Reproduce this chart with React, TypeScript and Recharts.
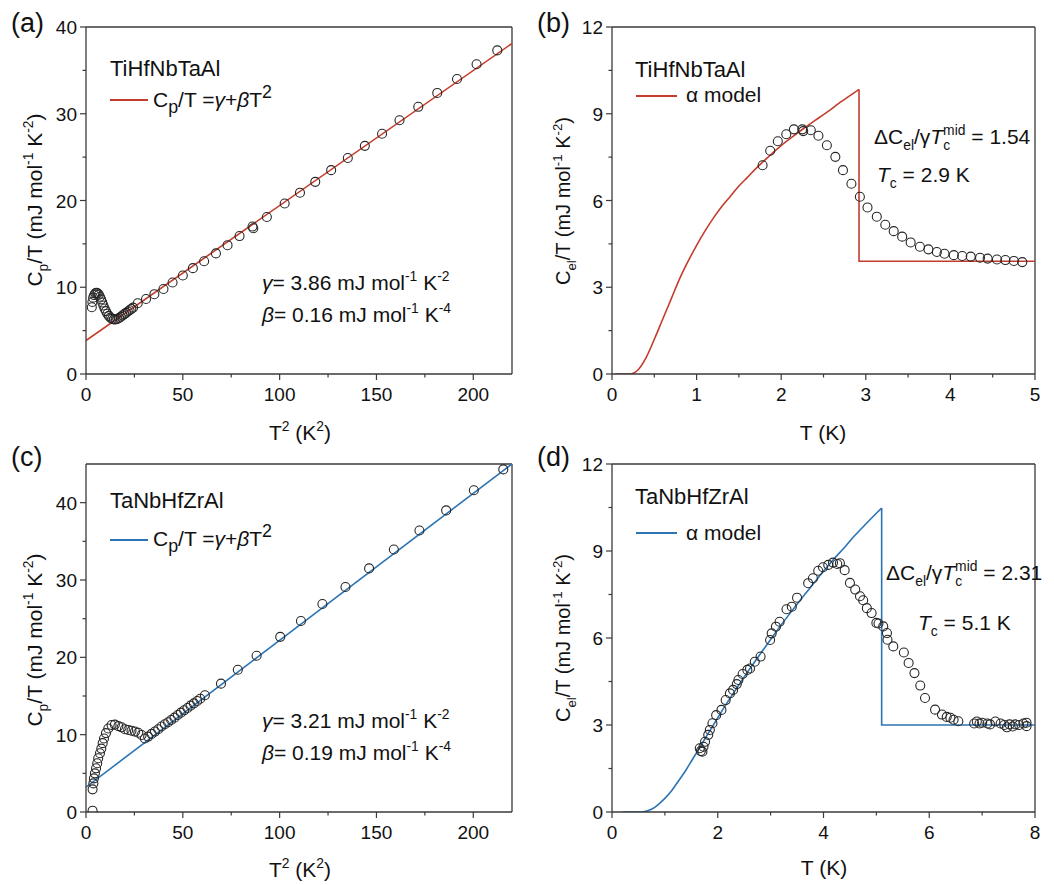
import React from 'react';
import { ComposedChart, Line, Scatter, XAxis, YAxis, ReferenceLine } from 'recharts';

const FONT = '"Liberation Sans", Arial, Helvetica, sans-serif';
const AXIS = '#3a3a3a';
const RED = '#c43c2c';
const BLUE = '#2c74b4';
const MARK = '#262626';
const TXT = '#111111';

// ---------- Panel (a): TiHfNbTaAl, Cp/T vs T^2 ----------
const aT2 = [3.0, 3.3, 3.7, 4.2, 4.8, 5.4, 6.0, 6.6, 7.2, 7.8, 8.4, 9.0, 9.6, 10.3, 11.0, 11.8, 12.6, 13.5, 14.4, 15.3, 16.2, 17.1, 18.0, 18.9, 19.8, 20.7, 21.6, 22.5, 23.4, 24.3, 26.7, 31.0, 35.3, 40.0, 44.7, 50.0, 55.2, 61.0, 67.1, 73.1, 79.3, 86.0, 86.4, 93.4, 102.6, 110.5, 118.4, 126.6, 135.2, 144.0, 152.9, 161.9, 171.6, 181.4, 191.6, 201.7, 212.4];
const aCpT = [7.7, 8.3, 8.8, 9.1, 9.3, 9.35, 9.3, 9.15, 8.9, 8.6, 8.25, 7.9, 7.55, 7.25, 6.95, 6.7, 6.5, 6.35, 6.3, 6.3, 6.35, 6.45, 6.6, 6.75, 6.9, 7.05, 7.2, 7.35, 7.5, 7.65, 8.15, 8.65, 9.2, 9.8, 10.55, 11.35, 12.2, 13.0, 13.9, 14.85, 15.9, 17.0, 16.8, 18.1, 19.65, 20.9, 22.15, 23.5, 24.9, 26.3, 27.7, 29.25, 30.8, 32.4, 34.0, 35.7, 37.3];
const aFitT2 = [0, 220];
const aFitCpT = [3.86, 38.1];

// ---------- Panel (b): TiHfNbTaAl, Cel/T vs T ----------
const bT = [1.78, 1.87, 1.96, 2.06, 2.15, 2.25, 2.26, 2.35, 2.44, 2.54, 2.64, 2.73, 2.83, 2.93, 3.02, 3.13, 3.23, 3.33, 3.43, 3.53, 3.64, 3.74, 3.84, 3.93, 4.04, 4.14, 4.24, 4.35, 4.44, 4.55, 4.65, 4.75, 4.85];
const bCel = [7.22, 7.72, 8.05, 8.29, 8.46, 8.46, 8.4, 8.43, 8.24, 7.91, 7.51, 7.05, 6.58, 6.13, 5.76, 5.44, 5.16, 4.94, 4.75, 4.55, 4.4, 4.31, 4.22, 4.16, 4.11, 4.08, 4.06, 4.02, 3.99, 3.96, 3.94, 3.91, 3.87];
const bModelT = [0.04, 0.22, 0.3, 0.4, 0.5, 0.6, 0.7, 0.8, 0.9, 1.0, 1.1, 1.2, 1.3, 1.4, 1.5, 1.6, 1.7, 1.8, 1.9, 2.0, 2.1, 2.2, 2.3, 2.4, 2.5, 2.6, 2.7, 2.8, 2.92];
const bModelC = [0, 0, 0.12, 0.55, 1.2, 1.9, 2.6, 3.3, 3.9, 4.45, 4.95, 5.4, 5.8, 6.15, 6.5, 6.8, 7.1, 7.38, 7.65, 7.9, 8.13, 8.35, 8.56, 8.77, 8.97, 9.18, 9.4, 9.6, 9.84];
const bJumpT = [2.92, 2.92, 5.0];
const bJumpC = [9.84, 3.9, 3.9];

// ---------- Panel (c): TaNbHfZrAl, Cp/T vs T^2 ----------
const cT2 = [3.4, 3.4, 3.8, 4.1, 4.6, 5.2, 5.8, 6.3, 7.2, 7.9, 8.6, 9.3, 10.3, 11.5, 13.2, 14.9, 16.7, 18.4, 20.1, 21.8, 23.5, 25.3, 27.0, 28.7, 30.4, 32.1, 33.9, 35.6, 37.3, 39.0, 40.7, 42.4, 44.0, 45.7, 47.4, 49.0, 50.7, 52.4, 54.0, 55.7, 57.4, 59.0, 61.4, 69.7, 78.4, 88.1, 100.3, 111.0, 122.1, 134.0, 146.2, 159.0, 172.2, 186.0, 200.3, 215.5];
const cCpT = [0.17, 2.93, 3.7, 4.35, 5.0, 5.65, 6.3, 6.95, 7.6, 8.2, 8.9, 9.5, 10.2, 10.8, 11.25, 11.3, 11.1, 10.95, 10.7, 10.6, 10.5, 10.4, 10.25, 9.95, 9.5, 9.75, 10.1, 10.4, 10.7, 11.05, 11.35, 11.6, 11.9, 12.2, 12.55, 12.85, 13.15, 13.45, 13.75, 14.05, 14.35, 14.65, 15.1, 16.6, 18.4, 20.2, 22.65, 24.7, 26.9, 29.1, 31.5, 33.95, 36.4, 39.0, 41.6, 44.3];
const cFitT2 = [0, 220];
const cFitCpT = [3.21, 45.0];

// ---------- Panel (d): TaNbHfZrAl, Cel/T vs T ----------
const dT = [1.66, 1.68, 1.71, 1.73, 1.76, 1.82, 1.85, 1.90, 1.97, 2.07, 2.15, 2.23, 2.29, 2.36, 2.39, 2.47, 2.56, 2.61, 2.70, 2.81, 2.99, 3.02, 3.10, 3.17, 3.30, 3.40, 3.50, 3.71, 3.80, 3.90, 3.99, 4.09, 4.18, 4.26, 4.31, 4.40, 4.50, 4.60, 4.69, 4.75, 4.82, 4.91, 5.00, 5.04, 5.13, 5.20, 5.21, 5.32, 5.52, 5.61, 5.72, 5.83, 5.92, 6.11, 6.24, 6.33, 6.40, 6.46, 6.55, 6.85, 6.9, 6.95, 7.0, 7.1, 7.15, 7.25, 7.35, 7.42, 7.47, 7.52, 7.58, 7.63, 7.7, 7.78, 7.84, 7.84];
const dCel = [2.2, 2.1, 2.08, 2.25, 2.42, 2.66, 2.83, 3.06, 3.34, 3.52, 3.86, 4.09, 4.21, 4.41, 4.55, 4.76, 4.9, 4.95, 5.18, 5.36, 5.93, 6.16, 6.39, 6.56, 6.99, 7.08, 7.39, 7.89, 8.06, 8.32, 8.44, 8.52, 8.6, 8.55, 8.58, 8.34, 7.9, 7.67, 7.44, 7.3, 7.03, 6.86, 6.52, 6.5, 6.4, 6.17, 5.94, 5.71, 5.5, 5.14, 4.79, 4.36, 3.93, 3.53, 3.36, 3.28, 3.25, 3.18, 3.13, 3.05, 3.12, 3.05, 3.08, 3.05, 3.02, 3.12, 3.05, 3.0, 2.92, 3.02, 2.95, 3.02, 3.0, 3.05, 2.96, 3.08];
const dModelT = [0.2, 0.55, 0.7, 0.8, 0.9, 1.0, 1.1, 1.2, 1.3, 1.4, 1.5, 1.6, 1.7, 1.8, 2.0, 2.2, 2.4, 2.6, 2.8, 3.0, 3.2, 3.4, 3.6, 3.8, 4.0, 4.2, 4.4, 4.6, 4.8, 5.0, 5.1];
const dModelC = [0, 0, 0.06, 0.15, 0.3, 0.47, 0.67, 0.92, 1.18, 1.45, 1.75, 2.05, 2.35, 2.65, 3.25, 3.83, 4.38, 4.92, 5.44, 5.95, 6.45, 6.93, 7.4, 7.85, 8.3, 8.73, 9.13, 9.55, 9.93, 10.3, 10.48];
const dJumpT = [5.1, 5.1, 8.0];
const dJumpC = [10.48, 3.0, 3.0];

// ---------- ticks ----------
const t2Ticks = [0, 25, 50, 75, 100, 125, 150, 175, 200];
const t2Major = [0, 50, 100, 150, 200];
const aYTicks = [0, 5, 10, 15, 20, 25, 30, 35, 40];
const cYTicks = [0, 5, 10, 15, 20, 25, 30, 35, 40];
const cpMajor = [0, 10, 20, 30, 40];
const bXTicks = [0, 0.5, 1, 1.5, 2, 2.5, 3, 3.5, 4, 4.5, 5];
const bXMajor = [0, 1, 2, 3, 4, 5];
const dXTicks = [0, 1, 2, 3, 4, 5, 6, 7, 8];
const dXMajor = [0, 2, 4, 6, 8];
const celTicks = [0, 1.5, 3, 4.5, 6, 7.5, 9, 10.5, 12];
const celMajor = [0, 3, 6, 9, 12];

const zip = (xs: number[], ys: number[]) => xs.map((x, i) => ({ x, y: ys[i] }));

const Circle = (p: any) =>
  p.cx == null || p.cy == null ? null : (
    <circle cx={p.cx} cy={p.cy} r={4.5} fill="none" stroke={MARK} strokeWidth={1.1} />
  );

const makeXTick = (majors: number[]) => (props: any) => {
  const { x, y, payload } = props;
  const major = majors.includes(payload.value);
  return (
    <g>
      <line x1={x} y1={y} x2={x} y2={y + (major ? 6 : 3.5)} stroke={AXIS} strokeWidth={1.2} />
      {major && (
        <text x={x} y={y + 27} textAnchor="middle" fontSize={19} fontFamily={FONT} fill={TXT}>
          {payload.value}
        </text>
      )}
    </g>
  );
};

const makeYTick = (majors: number[]) => (props: any) => {
  const { x, y, payload } = props;
  const major = majors.includes(payload.value);
  return (
    <g>
      <line x1={x} y1={y} x2={x - (major ? 6 : 3.5)} y2={y} stroke={AXIS} strokeWidth={1.2} />
      {major && (
        <text x={x - 9} y={y + 7} textAnchor="end" fontSize={19} fontFamily={FONT} fill={TXT}>
          {payload.value}
        </text>
      )}
    </g>
  );
};

type Pt = { x: number; y: number };
type PanelProps = {
  left: number; top: number; width: number; height: number;
  margin: { top: number; right: number; bottom: number; left: number };
  yAxisWidth: number;
  xDomain: [number, number]; xTicks: number[]; xMajor: number[];
  yDomain: [number, number]; yTicks: number[]; yMajor: number[];
  fit: Pt[]; jump?: Pt[]; curved?: boolean; pts: Pt[]; color: string;
};

function Panel(p: PanelProps) {
  return (
    <div style={{ position: 'absolute', left: p.left, top: p.top }}>
      <ComposedChart width={p.width} height={p.height} margin={p.margin}>
        <XAxis
          type="number" dataKey="x" domain={p.xDomain} ticks={p.xTicks} interval={0}
          tickSize={0} tickMargin={0} tickLine={false} tick={makeXTick(p.xMajor)}
          axisLine={{ stroke: AXIS, strokeWidth: 1.3 }} allowDataOverflow height={30}
        />
        <YAxis
          type="number" domain={p.yDomain} ticks={p.yTicks} interval={0}
          tickSize={0} tickMargin={0} tickLine={false} tick={makeYTick(p.yMajor)}
          axisLine={{ stroke: AXIS, strokeWidth: 1.3 }} allowDataOverflow width={p.yAxisWidth}
        />
        <ReferenceLine y={p.yDomain[1]} stroke={AXIS} strokeWidth={1.3} />
        <ReferenceLine x={p.xDomain[1]} stroke={AXIS} strokeWidth={1.3} />
        <Line data={p.fit} dataKey="y" type={p.curved ? 'monotone' : 'linear'} stroke={p.color} strokeWidth={1.6} dot={false} activeDot={false} isAnimationActive={false} />
        {p.jump && (
          <Line data={p.jump} dataKey="y" type="linear" stroke={p.color} strokeWidth={1.6} dot={false} activeDot={false} isAnimationActive={false} />
        )}
        <Scatter data={p.pts} dataKey="y" shape={Circle} isAnimationActive={false} />
      </ComposedChart>
    </div>
  );
}

type Part = { t: string; s?: 'sub' | 'sup'; i?: boolean; f?: number; dx?: number };

function Rich({ x, y, fs, parts, anchor = 'start', rotate = false }: { x: number; y: number; fs: number; parts: Part[]; anchor?: string; rotate?: boolean }) {
  let cur = 0;
  const spans = parts.map((p, k) => {
    const target = p.s === 'sub' ? 0.3 * fs : p.s === 'sup' ? -0.42 * fs : 0;
    const dy = target - cur;
    cur = target;
    const size = p.f ? fs * p.f : p.s ? fs * 0.66 : fs;
    return (
      <tspan key={k} dy={dy} dx={p.dx || 0} fontSize={size} fontStyle={p.i ? 'italic' : 'normal'}>
        {p.t}
      </tspan>
    );
  });
  return (
    <text
      x={x} y={y} fontSize={fs} fontFamily={FONT} fill={TXT} textAnchor={anchor as any}
      style={{ whiteSpace: 'pre' }}
      transform={rotate ? `rotate(-90 ${x} ${y})` : undefined}
    >
      {spans}
    </text>
  );
}

const cpLabel: Part[] = [{ t: 'C' }, { t: 'p', s: 'sub' }, { t: '/T (mJ mol' }, { t: '-1', s: 'sup' }, { t: ' K' }, { t: '-2', s: 'sup' }, { t: ')' }];
const celLabel: Part[] = [{ t: 'C' }, { t: 'el', s: 'sub' }, { t: '/T (mJ mol' }, { t: '-1', s: 'sup' }, { t: ' K' }, { t: '-2', s: 'sup' }, { t: ')' }];
const t2Label: Part[] = [{ t: 'T' }, { t: '2', s: 'sup' }, { t: ' (K' }, { t: '2', s: 'sup' }, { t: ')' }];
const fitLegend: Part[] = [{ t: 'C' }, { t: 'p', s: 'sub', f: 0.85 }, { t: '/T =' }, { t: 'γ', i: true }, { t: '+' }, { t: 'β', i: true }, { t: 'T' }, { t: '2', s: 'sup', f: 0.85 }];
const gammaLine = (v: string): Part[] => [{ t: 'γ', i: true }, { t: '= ' + v + ' mJ mol' }, { t: '-1', s: 'sup' }, { t: ' K' }, { t: '-2', s: 'sup' }];
const betaLine = (v: string): Part[] => [{ t: 'β', i: true }, { t: '= ' + v + ' mJ mol' }, { t: '-1', s: 'sup' }, { t: ' K' }, { t: '-4', s: 'sup' }];
const jumpLine = (v: string): Part[] => [{ t: 'ΔC' }, { t: 'el', s: 'sub' }, { t: '/γ' }, { t: 'T', i: true }, { t: 'c', s: 'sub' }, { t: 'mid', s: 'sup', dx: -7 }, { t: ' = ' + v }];
const tcLine = (v: string): Part[] => [{ t: 'T', i: true }, { t: 'c', s: 'sub' }, { t: ' = ' + v + ' K' }];

export default function App() {
  return (
    <div style={{ position: 'absolute', left: 0, top: 0, width: 1054, height: 885, background: '#fff', fontFamily: FONT }}>
      <Panel
        left={0} top={0} width={527} height={445}
        margin={{ top: 27, right: 15, bottom: 41, left: 0 }} yAxisWidth={86}
        xDomain={[0, 220]} xTicks={t2Ticks} xMajor={t2Major}
        yDomain={[0, 40]} yTicks={aYTicks} yMajor={cpMajor}
        fit={zip(aFitT2, aFitCpT)} pts={zip(aT2, aCpT)} color={RED}
      />
      <Panel
        left={527} top={0} width={527} height={445}
        margin={{ top: 27, right: 19, bottom: 41, left: 0 }} yAxisWidth={85}
        xDomain={[0, 5]} xTicks={bXTicks} xMajor={bXMajor}
        yDomain={[0, 12]} yTicks={celTicks} yMajor={celMajor}
        fit={zip(bModelT, bModelC)} jump={zip(bJumpT, bJumpC)} curved
        pts={zip(bT, bCel)} color={RED}
      />
      <Panel
        left={0} top={437} width={527} height={448}
        margin={{ top: 27, right: 15, bottom: 43, left: 0 }} yAxisWidth={86}
        xDomain={[0, 220]} xTicks={t2Ticks} xMajor={t2Major}
        yDomain={[0, 45]} yTicks={cYTicks} yMajor={cpMajor}
        fit={zip(cFitT2, cFitCpT)} pts={zip(cT2, cCpT)} color={BLUE}
      />
      <Panel
        left={527} top={437} width={527} height={448}
        margin={{ top: 27, right: 19, bottom: 43, left: 0 }} yAxisWidth={85}
        xDomain={[0, 8]} xTicks={dXTicks} xMajor={dXMajor}
        yDomain={[0, 12]} yTicks={celTicks} yMajor={celMajor}
        fit={zip(dModelT, dModelC)} jump={zip(dJumpT, dJumpC)} curved
        pts={zip(dT, dCel)} color={BLUE}
      />
      <svg width={1054} height={885} style={{ position: 'absolute', left: 0, top: 0, pointerEvents: 'none' }}>
        {/* panel letters */}
        <text x={11} y={32} fontSize={27} fontFamily={FONT} fill={TXT}>(a)</text>
        <text x={537} y={32} fontSize={27} fontFamily={FONT} fill={TXT}>(b)</text>
        <text x={11} y={466} fontSize={27} fontFamily={FONT} fill={TXT}>(c)</text>
        <text x={537} y={466} fontSize={27} fontFamily={FONT} fill={TXT}>(d)</text>

        {/* axis titles */}
        <Rich x={42} y={200} fs={21} parts={cpLabel} anchor="middle" rotate />
        <Rich x={570} y={201} fs={20} parts={celLabel} anchor="middle" rotate />
        <Rich x={42} y={640} fs={21} parts={cpLabel} anchor="middle" rotate />
        <Rich x={570} y={638} fs={20} parts={celLabel} anchor="middle" rotate />
        <Rich x={300} y={440} fs={21} parts={t2Label} anchor="middle" />
        <Rich x={823} y={440} fs={21} parts={[{ t: 'T (K)' }]} anchor="middle" />
        <Rich x={300} y={877} fs={21} parts={t2Label} anchor="middle" />
        <Rich x={824} y={875} fs={21} parts={[{ t: 'T (K)' }]} anchor="middle" />

        {/* panel (a) annotations */}
        <Rich x={110} y={76} fs={22} parts={[{ t: 'TiHfNbTaAl' }]} />
        <line x1={110} x2={148} y1={100} y2={100} stroke={RED} strokeWidth={2} />
        <Rich x={153} y={107} fs={21} parts={fitLegend} />
        <Rich x={262} y={290} fs={21} parts={gammaLine('3.86')} />
        <Rich x={262} y={322} fs={21} parts={betaLine('0.16')} />

        {/* panel (b) annotations */}
        <Rich x={635} y={77} fs={22} parts={[{ t: 'TiHfNbTaAl' }]} />
        <line x1={636} x2={677} y1={96} y2={96} stroke={RED} strokeWidth={2.2} />
        <Rich x={686} y={102} fs={21} parts={[{ t: 'α model' }]} />
        <Rich x={874} y={144} fs={21} parts={jumpLine('1.54')} />
        <Rich x={877} y={182} fs={21} parts={tcLine('2.9')} />

        {/* panel (c) annotations */}
        <Rich x={110} y={508} fs={22} parts={[{ t: 'TaNbHfZrAl' }]} />
        <line x1={110} x2={148} y1={540} y2={540} stroke={BLUE} strokeWidth={2} />
        <Rich x={153} y={546} fs={21} parts={fitLegend} />
        <Rich x={262} y={728} fs={21} parts={gammaLine('3.21')} />
        <Rich x={262} y={760} fs={21} parts={betaLine('0.19')} />

        {/* panel (d) annotations */}
        <Rich x={635} y={504} fs={22} parts={[{ t: 'TaNbHfZrAl' }]} />
        <line x1={636} x2={677} y1={533} y2={533} stroke={BLUE} strokeWidth={2.2} />
        <Rich x={686} y={540} fs={21} parts={[{ t: 'α model' }]} />
        <Rich x={886} y={580} fs={21} parts={jumpLine('2.31')} />
        <Rich x={918} y={630} fs={21} parts={tcLine('5.1')} />
      </svg>
    </div>
  );
}
